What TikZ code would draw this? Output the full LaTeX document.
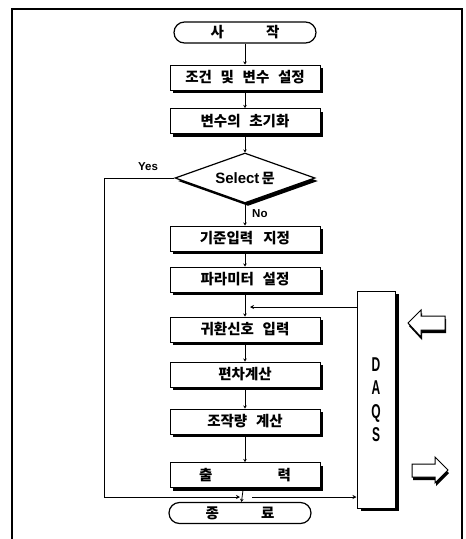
\documentclass[tikz,border=0pt]{standalone}
\usepackage{fontspec}
\setmainfont{Noto Sans CJK KR}
\newfontfamily\latn{Liberation Sans}
\newfontfamily\latnarrow[FakeStretch=0.6]{Liberation Sans}
\usetikzlibrary{shapes.geometric,shadows,arrows.meta}
\tikzset{
  shd/.style={drop shadow={shadow xshift=3pt,shadow yshift=-3pt,opacity=1,fill=black}},
  procbox/.style={draw,fill=white,line width=1pt,minimum width=150pt,minimum height=25pt,inner sep=0pt,shd,font=\fontsize{14.5pt}{16pt}\selectfont\bfseries},
  termbox/.style={draw,fill=white,line width=1.2pt,minimum width=142pt,minimum height=21pt,inner sep=0pt,rounded corners=10.5pt,font=\fontsize{14.5pt}{16pt}\selectfont\bfseries},
  decbox/.style={diamond,shape aspect=2.8,draw,fill=white,line width=1.2pt,minimum width=140pt,minimum height=50pt,inner sep=0pt,shd,font=\fontsize{14pt}{15pt}\selectfont\bfseries},
  flow/.style={line width=0.8pt,-{Stealth[length=3pt,width=3.5pt]}},
  conn/.style={line width=0.9pt},
  lbl/.style={font=\latn\fontsize{11.5pt}{12pt}\selectfont\bfseries,inner sep=0pt},
  hollow/.style={draw,fill=white,line width=1pt},
}
\begin{document}
\begin{tikzpicture}[x=1pt,y=-1pt]
\useasboundingbox (0,0) rectangle (466,539);
% frame
\draw[line width=1.3pt] (12,539) -- (12,9) -- (462,9) -- (462,539);

% nodes
\node[termbox] (start) at (245,32.5) {사\hspace{2.9em}작};
\node[procbox] (b1) at (245,77.5) {조건\hspace{0.6em}및\hspace{0.6em}변수\hspace{0.6em}설정};
\node[procbox] (b2) at (245,121) {변수의\hspace{0.6em}초기화};
\node[decbox] (sel) at (245,178) {{\latn\fontsize{15pt}{15pt}\selectfont Select}\,문};
\node[procbox] (b3) at (245,238.5) {기준입력\hspace{0.7em}지정};
\node[procbox] (b4) at (245,279.5) {파라미터\hspace{0.6em}설정};
\node[procbox] (b5) at (245,329.5) {귀환신호\hspace{0.6em}입력};
\node[procbox] (b6) at (245,374.5) {편차계산};
\node[procbox] (b7) at (245,421.5) {조작량\hspace{0.6em}계산};
\node[procbox] (b8) at (245,475) {출\hspace{4.5em}력};
\node[termbox] (end) at (240,513) {종\hspace{2.9em}료};

\node[draw,fill=white,line width=1pt,minimum width=38pt,minimum height=217pt,inner sep=0pt,
      drop shadow={shadow xshift=3.5pt,shadow yshift=-3pt,opacity=1,fill=black},
      align=center,font=\latnarrow\fontsize{20pt}{23.5pt}\selectfont\bfseries] (daqs) at (376,399.5) {D\\A\\Q\\S};

\node[lbl] (yes) at (148,167) {Yes};
\node[lbl,anchor=west] (no) at (252,214) {No};

% main flow
\draw[flow] (start) -- (b1);
\draw[flow] (b1) -- (b2);
\draw[flow] (b2) -- (sel);
\draw[flow] (sel) -- (b3);
\draw[flow] (b3) -- (b4);
\draw[flow] (b4) -- (b5);
\draw[flow] (b5) -- (b6);
\draw[flow] (b6) -- (b7);
\draw[flow] (b7) -- (b8);
\draw[flow] (b8) -- (end);

% Yes branch
\coordinate (ycorner) at (104,497);
\coordinate (yend) at (240,497);
\draw[conn,-{Stealth[length=4pt,width=4pt]}] (sel.west) -| (ycorner) -- (yend);

% DAQS links
\coordinate (inpt) at (250,307);
\draw[conn,-{Stealth[length=4pt,width=4pt]}] (inpt -| daqs.west) -- (inpt);
\coordinate (outpt) at (252,497);
\draw[conn,-{Stealth[length=4pt,width=4pt]}] (outpt) -- (outpt -| daqs.west);

% hollow block arrows
\fill[black] (409,326) -- (422,313) -- (422,319) -- (446,319) -- (446,333) -- (422,333) -- (422,340) -- cycle;
\draw[hollow] (408,323) -- (421,310) -- (421,316) -- (445,316) -- (445,330) -- (421,330) -- (421,337) -- cycle;
\fill[black] (413,467) -- (436,467) -- (436,460) -- (449,473) -- (436,486) -- (436,480) -- (413,480) -- cycle;
\draw[hollow] (412,464) -- (435,464) -- (435,457) -- (448,470) -- (435,483) -- (435,477) -- (412,477) -- cycle;
\end{tikzpicture}
\end{document}
